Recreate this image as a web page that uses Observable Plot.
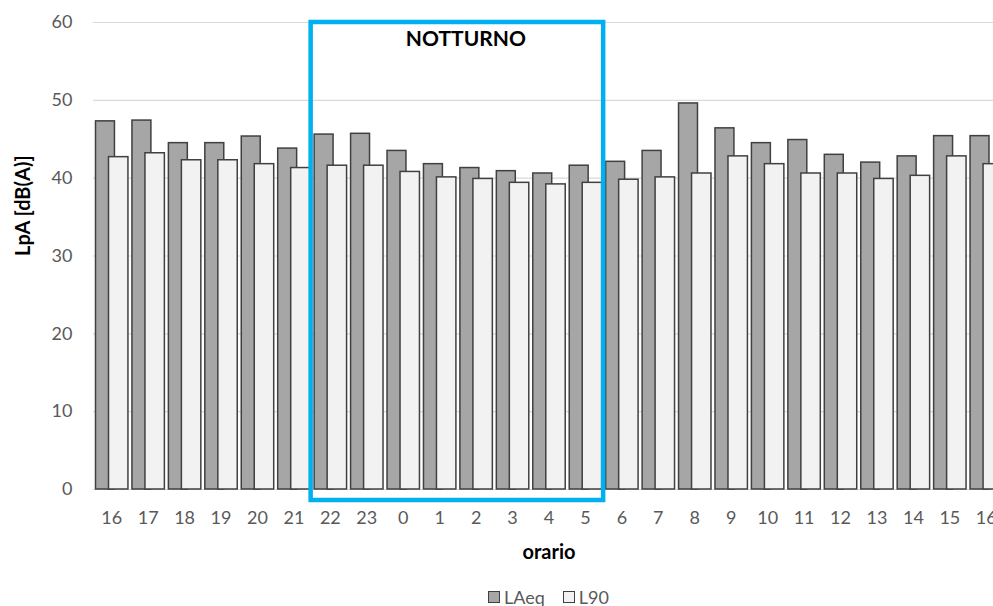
<!DOCTYPE html>
<html>
<head>
<meta charset="utf-8">
<script src="https://cdn.jsdelivr.net/npm/d3@7"></script>
<script src="https://cdn.jsdelivr.net/npm/@observablehq/plot@0.6"></script>
<style>
  html, body { margin: 0; padding: 0; background: #fff; overflow: hidden; }
  #chart { width: 1014px; }
  .legend { display: flex; justify-content: center; align-items: center; margin-left: 93px; width: 911px; height: 23px;
            font-family: Lato, "Open Sans", sans-serif; font-size: 18px; color: #595959; }
  .legend .sw { width: 12px; height: 12px; border: 1px solid #404040; box-sizing: border-box; margin-right: 4px; }
  .legend .item { display: flex; align-items: center; margin: 0 9px; }
</style>
</head>
<body>
<div id="chart"></div>
<script>
const hourLabels = ["16","17","18","19","20","21","22","23","0","1","2","3","4","5","6","7","8","9","10","11","12","13","14","15","16"];
const laeq = [47.3, 47.4, 44.5, 44.5, 45.35, 43.8, 45.6, 45.7, 43.5, 41.8, 41.3, 40.9, 40.6, 41.6, 42.1, 43.5, 49.6, 46.4, 44.5, 44.9, 43.0, 42.0, 42.8, 45.4, 45.4];
const l90 = [42.7, 43.2, 42.3, 42.3, 41.8, 41.3, 41.6, 41.6, 40.8, 40.1, 39.9, 39.4, 39.2, 39.4, 39.8, 40.1, 40.6, 42.8, 41.8, 40.6, 40.6, 39.9, 40.3, 42.8, 41.8];
const yTicks = [0, 10, 20, 30, 40, 50, 60];
const seriesNames = ["LAeq", "L90"];
const nightStart = "22", nightEnd = "5", nightLabel = "NOTTURNO";
const xTitle = "orario", yTitle = "LpA [dB(A)]";

const rows = hourLabels.map((h, i) => ({i, h, laeq: laeq[i], l90: l90[i]}));
const colors = {LAeq: "#a6a6a6", L90: "#f2f2f2"};

const plot = Plot.plot({
  width: 1014,
  height: 585,
  marginLeft: 93,
  marginRight: 10,
  marginTop: 22,
  marginBottom: 96,
  style: {fontFamily: "Lato, 'Open Sans', sans-serif", fontSize: "18px", color: "#595959", background: "#fff", maxWidth: "none"},
  x: {type: "band", domain: d3.range(hourLabels.length), padding: 0, round: false, tickSize: 0, tickPadding: 22,
      tickFormat: i => hourLabels[i], label: null},
  y: {domain: [0, 60], ticks: yTicks, tickSize: 0, tickPadding: 21, label: null},
  marks: [
    Plot.ruleY(yTicks, {stroke: "#d9d9d9", strokeWidth: 1.2}),
    Plot.barY(rows, {x: "i", y: "laeq", fill: colors.LAeq, stroke: "#404040", strokeWidth: 1.5, insetLeft: 2.5, insetRight: 15}),
    Plot.barY(rows, {x: "i", y: "l90", fill: colors.L90, stroke: "#404040", strokeWidth: 1.5, insetLeft: 15.5, insetRight: 1.5}),
    Plot.text([yTitle], {frameAnchor: "left", rotate: -90, dx: -70, fontWeight: "bold", fill: "black", fontSize: 20}),
    Plot.text([xTitle], {frameAnchor: "bottom", dy: 69, fontWeight: "bold", fill: "black", fontSize: 20})
  ]
});

// Night-time highlight box, positioned via the plot's own scales
const sx = plot.scale("x"), sy = plot.scale("y");
const i0 = hourLabels.indexOf(nightStart), i1 = hourLabels.indexOf(nightEnd);
const xL = sx.apply(i0) - 1, xR = sx.apply(i1) + sx.step;
const yT = sy.apply(60), yB = sy.apply(0) + 11;
const ns = "http://www.w3.org/2000/svg";
const svg = plot.tagName.toLowerCase() === "svg" ? plot : plot.querySelector("svg");
const rect = document.createElementNS(ns, "rect");
rect.setAttribute("x", xL); rect.setAttribute("y", yT);
rect.setAttribute("width", xR - xL); rect.setAttribute("height", yB - yT);
rect.setAttribute("fill", "none"); rect.setAttribute("stroke", "#00b0f0"); rect.setAttribute("stroke-width", 4.5);
svg.appendChild(rect);
const t = document.createElementNS(ns, "text");
t.setAttribute("x", (xL + xR) / 2 + 9); t.setAttribute("y", yT + 19);
t.setAttribute("text-anchor", "middle"); t.setAttribute("dominant-baseline", "middle");
t.setAttribute("font-weight", "bold"); t.setAttribute("font-size", 21); t.setAttribute("fill", "black");
t.textContent = nightLabel;
svg.appendChild(t);

document.getElementById("chart").appendChild(plot);

const legend = document.createElement("div");
legend.className = "legend";
for (const name of seriesNames) {
  const it = document.createElement("div"); it.className = "item";
  const sw = document.createElement("div"); sw.className = "sw"; sw.style.background = colors[name];
  const tx = document.createElement("span"); tx.textContent = name;
  it.appendChild(sw); it.appendChild(tx); legend.appendChild(it);
}
document.body.appendChild(legend);
</script>
</body>
</html>
